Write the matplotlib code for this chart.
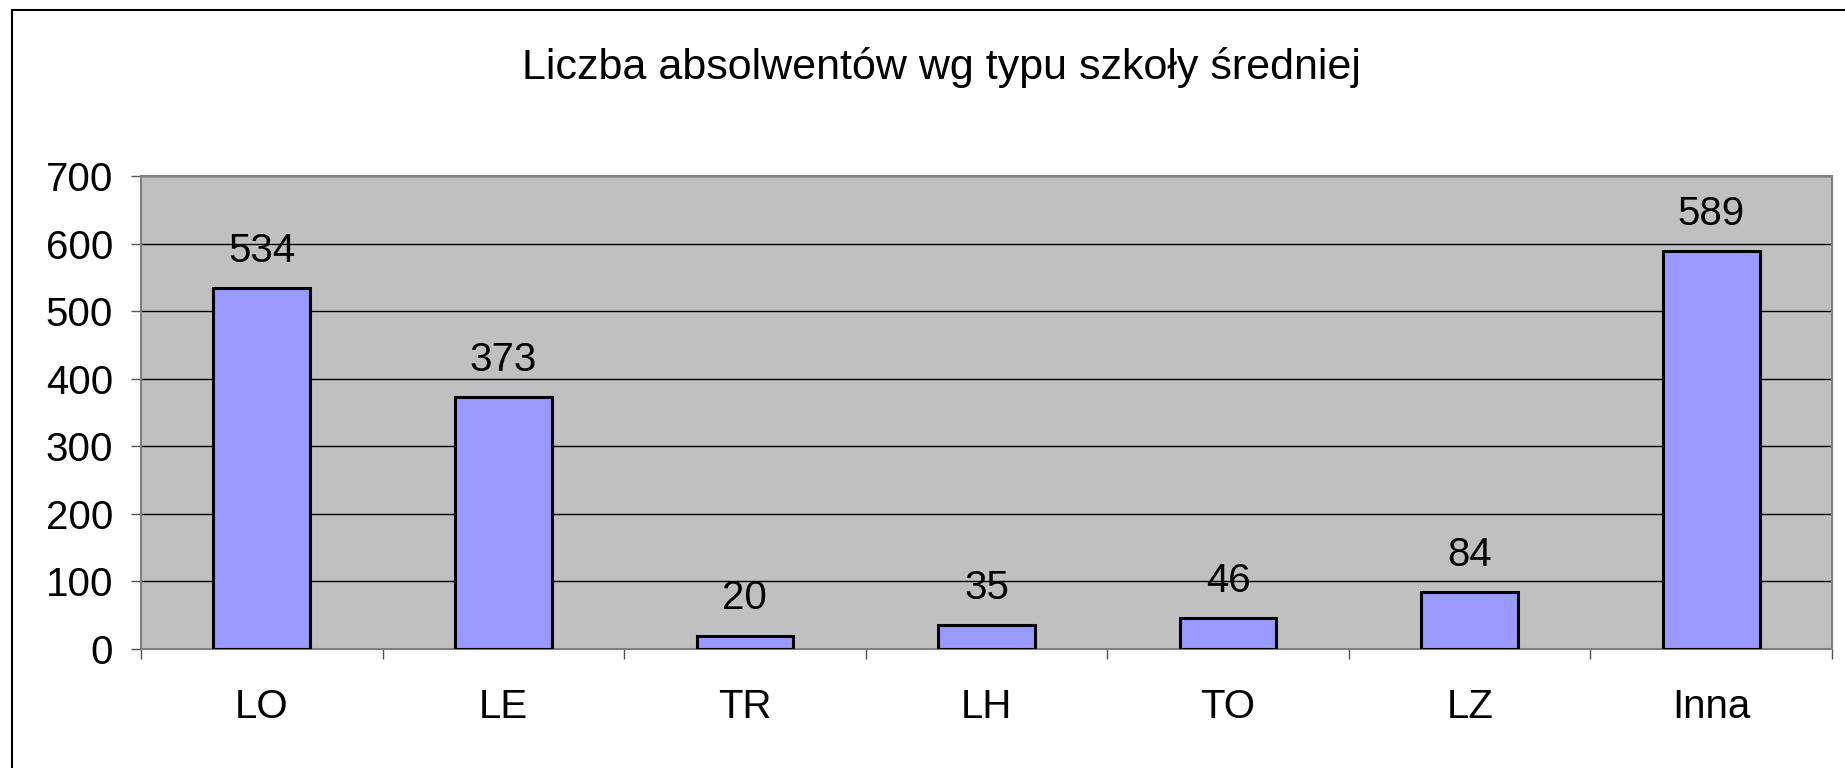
import matplotlib
matplotlib.use('Agg')
import matplotlib.pyplot as plt
from matplotlib.patches import Rectangle
import numpy as np

# data
categories = ['LO', 'LE', 'TR', 'LH', 'TO', 'LZ', 'Inna']
values = [534, 373, 20, 35, 46, 84, 589]
yticks = [0, 100, 200, 300, 400, 500, 600, 700]

plt.rcParams['font.family'] = ['Liberation Sans', 'DejaVu Sans']

fig = plt.figure(figsize=(18.45, 7.68), dpi=100)
ax = fig.add_axes([0.0764, 0.1549, 0.9166, 0.6159])

x = np.arange(len(categories))
ax.bar(x, values, width=0.4, color='#9999FF', edgecolor='black', linewidth=2.2, zorder=3)

for xi, v in zip(x, values):
    ax.annotate(str(v), (xi, v), xytext=(0, 13), textcoords='offset points',
                ha='center', va='bottom', fontsize=29)

ax.set_facecolor('#C0C0C0')
ax.set_xlim(-0.5, len(categories) - 0.5)
ax.set_ylim(0, 700)
ax.set_yticks(yticks)
ax.set_yticklabels([str(t) for t in yticks], fontsize=29)
ax.grid(axis='y', color='black', linewidth=1, zorder=1)

ax.set_xticks(x)
ax.set_xticklabels(categories, fontsize=29)
ax.set_xticks(np.arange(len(categories) + 1) - 0.5, minor=True)
ax.tick_params(axis='x', which='major', length=0, pad=28)
ax.tick_params(axis='x', which='minor', length=7, width=1, color='#555555')
ax.tick_params(axis='y', length=7, width=1, pad=13, color='#555555')

for s in ax.spines.values():
    s.set_color('#808080')
    s.set_linewidth(1.5)

fig.text(0.51, 0.912, 'Liczba absolwentów wg typu szkoły średniej', ha='center', va='center',
         fontsize=31)

fig.patches.append(Rectangle((12 / 1845, -0.1), 1.2, 1.1 - 10 / 768, transform=fig.transFigure,
                             fill=False, edgecolor='black', linewidth=1.5))

fig.savefig('out.png', dpi=100)
